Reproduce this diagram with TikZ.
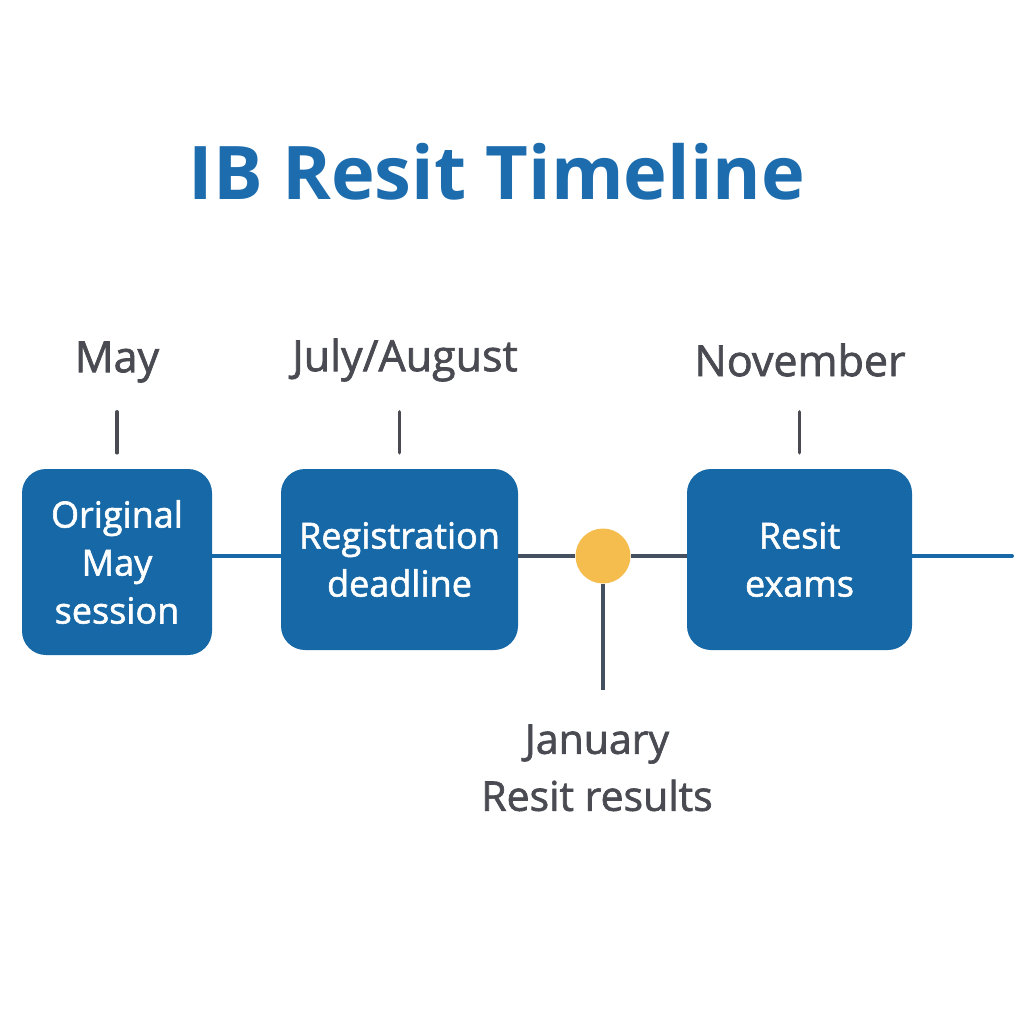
\documentclass[tikz,border=0pt]{standalone}
\usepackage{fontspec}
\setmainfont{Open Sans}
\newfontfamily\medfont[FakeBold=1.6]{Open Sans}
\usetikzlibrary{positioning}
\definecolor{Title}{HTML}{1C6CAE}
\definecolor{Box}{HTML}{1668A6}
\definecolor{Ink}{HTML}{4A4B52}
\definecolor{Axis}{HTML}{44505F}
\definecolor{Gold}{HTML}{F5BC4E}

\begin{document}
\begin{tikzpicture}[x=1pt,y=-1pt,
      box/.style={fill=Box,rounded corners=24pt,align=center,text=white,
        font=\medfont\fontsize{36}{48}\selectfont},
      month/.style={text=Ink,font=\medfont\fontsize{43}{48}\selectfont},
      tick/.style={line width=3.5pt,color=Ink,line cap=round},
      blueline/.style={line width=4pt,color=Box},
      greyline/.style={line width=4pt,color=Axis}
    ]
      \useasboundingbox (0,0) rectangle (1024,1024);
      \node[text=Title,font=\fontsize{74}{80}\selectfont\bfseries] (title) at (497,172) {IB Resit Timeline};
      % boxes
      \node[box,minimum width=190pt,minimum height=186pt] (orig) at (117,562) {Original\\May\\session};
      \node[box,minimum width=237pt,minimum height=181pt] (reg) at (399.5,559.5) {Registration\\deadline};
      \node[box,minimum width=225pt,minimum height=181pt] (exam) at (799.5,559.5) {Resit\\exams};
      \node[circle,fill=Gold,minimum size=55pt,inner sep=0pt] (dot) at (603,556) {};
      \coordinate (end) at (1012,556);
      \coordinate (stem) at (603,690);
      % timeline
      \draw[blueline] (orig.east |- dot) -- (reg.west |- dot);
      \draw[greyline] (reg.east |- dot) -- (dot.west);
      \draw[greyline] (dot.east) -- (exam.west |- dot);
      \draw[blueline,line cap=round] (exam.east |- dot) -- (end);
      \draw[greyline] (dot.south) -- (stem);
      % months
      \node[month] (may) at (117,362) {May};
      \node[month] (jul) at (405,360) {July/August};
      \node[month] (nov) at (800,360) {November};
      \draw[tick] ([yshift=16pt]orig.north) -- ([yshift=57pt]orig.north);
      \draw[tick] ([yshift=16pt]reg.north) -- ([yshift=57pt]reg.north);
      \draw[tick] ([yshift=16pt]exam.north) -- ([yshift=57pt]exam.north);
      \node[align=center,text=Ink,font=\medfont\fontsize{41}{57}\selectfont,below=31pt of stem,xshift=-6pt] (res) {January\\Resit results};
    \end{tikzpicture}
\end{document}
